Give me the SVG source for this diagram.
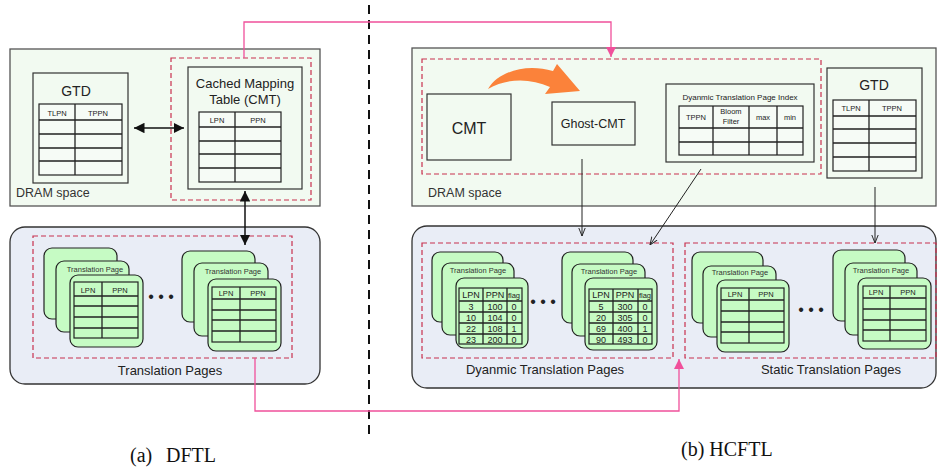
<svg xmlns="http://www.w3.org/2000/svg" width="937" height="472" viewBox="0 0 937 472">
<style>
text{font-family:"Liberation Sans",Arial,sans-serif;fill:#222}
.dram{fill:#f2faf1;stroke:#555;stroke-width:1.3}
.tpbox{fill:#e9edf6;stroke:#333;stroke-width:1.3}
.box{fill:#f2faf1;stroke:#333;stroke-width:1.2}
.rdash{fill:none;stroke:#c8304e;stroke-width:1.2;stroke-dasharray:5,3}
.pg{fill:#c6fbc4;stroke:#222;stroke-width:1.2}
.tw{fill:#f6fbf6;stroke:#222;stroke-width:1.2}
.tg{fill:#c6fbc4;stroke:#222;stroke-width:1.2}
.ln{stroke:#222;stroke-width:1.3;fill:none}
.pink{stroke:#f0509b;stroke-width:1.3;fill:none}
.blk{stroke:#222;stroke-width:1;fill:none}
.lbl{font-size:12.5px;fill:#333}
.th{font-size:7.5px;text-anchor:middle}
.td{font-size:9px;text-anchor:middle}
.tp{font-size:7.5px;text-anchor:middle;fill:#333}
.cap{font-family:"Liberation Serif","Times New Roman",serif;font-size:20px;fill:#111}
</style>
<defs>
<marker id="ab" viewBox="0 0 10 10" refX="10" refY="5" markerWidth="7" markerHeight="7" orient="auto-start-reverse"><path d="M0,0 L10,5 L0,10 Z" fill="#111"/></marker>
<marker id="ao" viewBox="0 0 10 10" refX="10" refY="5" markerWidth="8" markerHeight="8" orient="auto"><path d="M0,1 L10,5 L0,9" fill="none" stroke="#222" stroke-width="1.2"/></marker>
<marker id="ap" viewBox="0 0 10 10" refX="10" refY="5" markerWidth="8" markerHeight="8" orient="auto"><path d="M0,0 L10,5 L0,10 Z" fill="#f0509b"/></marker>
</defs>

<!-- divider -->
<line x1="369" y1="5" x2="369" y2="437" stroke="#111" stroke-width="2" stroke-dasharray="9,6"/>

<!-- ===== (a) DFTL ===== -->
<g id="dram-a">
<rect class="dram" x="10" y="49" width="310" height="157"/>
<text class="lbl" x="16" y="197">DRAM space</text>
</g>
<g id="gtd-a">
<rect class="box" x="33" y="73" width="95" height="110"/>
<text x="76" y="96" font-size="14" text-anchor="middle">GTD</text>
<rect class="tw" x="39" y="104" width="83" height="71"/>
<path class="ln" d="M39,120H122M39,134H122M39,148H122M39,161H122M75,104V175"/>
<text class="th" x="57" y="116">TLPN</text>
<text class="th" x="98" y="116">TPPN</text>
</g>
<g id="cmt-a">
<rect class="rdash" x="171" y="58" width="140" height="142"/>
<rect class="box" x="188" y="67" width="114" height="122"/>
<text x="245" y="88" font-size="13" text-anchor="middle">Cached Mapping</text>
<text x="245" y="104" font-size="13" text-anchor="middle">Table (CMT)</text>
<rect class="tw" x="199" y="112" width="82" height="70"/>
<path class="ln" d="M199,127H281M199,141H281M199,154H281M199,168H281M235,112V182"/>
<text class="th" x="217" y="123">LPN</text>
<text class="th" x="258" y="123">PPN</text>
</g>
<g id="tp-a">
<rect class="tpbox" x="10" y="227" width="310" height="157" rx="15"/>
<rect class="rdash" x="33" y="236" width="259" height="122"/>
<text x="170" y="375" font-size="13" text-anchor="middle" fill="#333">Translation Pages</text>
<rect class="pg" x="44" y="248" width="73" height="71" rx="8"/>
<rect class="pg" x="56" y="261" width="73" height="71" rx="8"/>
<text class="tp" x="95" y="272">Translation Page</text>
<rect class="pg" x="70" y="275" width="73" height="72" rx="8"/>
<rect class="tg" x="74" y="282" width="64" height="56"/>
<path class="ln" d="M74,296H138M74,306H138M74,317H138M74,328H138M102,282V338"/>
<text class="th" x="88" y="293">LPN</text>
<text class="th" x="120" y="293">PPN</text>
<text x="161" y="302" font-size="16" text-anchor="middle" fill="#111">• • •</text>
<rect class="pg" x="182" y="251" width="73" height="71" rx="8"/>
<rect class="pg" x="194" y="263" width="74" height="73" rx="8"/>
<text class="tp" x="233" y="274">Translation Page</text>
<rect class="pg" x="208" y="279" width="73" height="72" rx="8"/>
<rect class="tg" x="212" y="287" width="64" height="55"/>
<path class="ln" d="M212,299H276M212,310H276M212,320H276M212,331H276M240,287V342"/>
<text class="th" x="226" y="296">LPN</text>
<text class="th" x="258" y="296">PPN</text>
</g>

<!-- ===== (b) HCFTL ===== -->
<g id="dram-b">
<rect class="dram" x="412" y="48" width="524" height="158"/>
<text class="lbl" x="428" y="197">DRAM space</text>
<rect class="rdash" x="422" y="59" width="399" height="115"/>
</g>
<g id="cmt-b">
<rect class="box" x="427" y="94" width="84" height="66"/>
<text x="469" y="134" font-size="16" text-anchor="middle">CMT</text>
</g>
<g id="ghost-cmt">
<rect class="box" x="552" y="102" width="83" height="43"/>
<text x="593" y="128" font-size="12.5" text-anchor="middle">Ghost-CMT</text>
</g>
<g id="dtpi">
<rect class="box" x="666" y="84" width="148" height="78"/>
<text x="740" y="100" font-size="8" text-anchor="middle">Dyanmic Translation Page Index</text>
<rect class="tw" x="679" y="106" width="124" height="49"/>
<path class="ln" d="M679,128H803M679,142H803M713,106V155M749,106V155M777,106V155"/>
<text class="th" x="696" y="120">TPPN</text>
<text class="th" x="731" y="114">Bloom</text>
<text class="th" x="731" y="124">Filter</text>
<text class="th" x="763" y="120">max</text>
<text class="th" x="790" y="120">min</text>
</g>
<g id="gtd-b">
<rect class="box" x="827" y="68" width="95" height="110"/>
<text x="874" y="90" font-size="14" text-anchor="middle">GTD</text>
<rect class="tw" x="833" y="100" width="83" height="71"/>
<path class="ln" d="M833,116H916M833,129H916M833,143H916M833,157H916M869,100V171"/>
<text class="th" x="851" y="111">TLPN</text>
<text class="th" x="892" y="111">TPPN</text>
</g>
<g id="tp-b">
<rect class="tpbox" x="412" y="226" width="524" height="162" rx="15"/>
</g>
<g id="dynamic-tp">
<rect class="rdash" x="422" y="243" width="251" height="115"/>
<text x="545" y="374" font-size="13" text-anchor="middle" fill="#333">Dyanmic Translation Pages</text>
<rect class="pg" x="432" y="252" width="71" height="70" rx="8"/>
<rect class="pg" x="442" y="263" width="72" height="72" rx="8"/>
<text class="tp" x="478" y="273">Translation Page</text>
<rect class="pg" x="456" y="278" width="72" height="70" rx="8"/>
<rect class="tg" x="459" y="288" width="63" height="56"/>
<path class="ln" d="M459,301H522M459,312H522M459,323H522M459,334H522M483,288V344M507,288V344"/>
<text class="td" x="471" y="298">LPN</text>
<text class="td" x="495" y="298">PPN</text>
<text class="th" x="514" y="298" font-size="6">flag</text>
<text class="td" x="471" y="310">3</text><text class="td" x="495" y="310">100</text><text class="td" x="514" y="310">0</text>
<text class="td" x="471" y="321">10</text><text class="td" x="495" y="321">104</text><text class="td" x="514" y="321">0</text>
<text class="td" x="471" y="332">22</text><text class="td" x="495" y="332">108</text><text class="td" x="514" y="332">1</text>
<text class="td" x="471" y="343">23</text><text class="td" x="495" y="343">200</text><text class="td" x="514" y="343">0</text>
<text x="543" y="307" font-size="16" text-anchor="middle" fill="#111">• • •</text>
<rect class="pg" x="562" y="252" width="71" height="71" rx="8"/>
<rect class="pg" x="572" y="264" width="73" height="72" rx="8"/>
<text class="tp" x="609" y="274">Translation Page</text>
<rect class="pg" x="585" y="278" width="72" height="72" rx="8"/>
<rect class="tg" x="589" y="289" width="63" height="55"/>
<path class="ln" d="M589,301H652M589,312H652M589,323H652M589,334H652M613,289V344M638,289V344"/>
<text class="td" x="601" y="298">LPN</text>
<text class="td" x="625" y="298">PPN</text>
<text class="th" x="645" y="298" font-size="6">flag</text>
<text class="td" x="601" y="310">5</text><text class="td" x="625" y="310">300</text><text class="td" x="645" y="310">0</text>
<text class="td" x="601" y="321">20</text><text class="td" x="625" y="321">305</text><text class="td" x="645" y="321">0</text>
<text class="td" x="601" y="332">69</text><text class="td" x="625" y="332">400</text><text class="td" x="645" y="332">1</text>
<text class="td" x="601" y="343">90</text><text class="td" x="625" y="343">493</text><text class="td" x="645" y="343">0</text>
</g>
<g id="static-tp">
<rect class="rdash" x="685" y="243" width="251" height="115"/>
<text x="831" y="374" font-size="13" text-anchor="middle" fill="#333">Static Translation Pages</text>
<rect class="pg" x="692" y="252" width="71" height="71" rx="8"/>
<rect class="pg" x="703" y="266" width="73" height="71" rx="8"/>
<text class="tp" x="740" y="275">Translation Page</text>
<rect class="pg" x="717" y="280" width="72" height="72" rx="8"/>
<rect class="tg" x="721" y="288" width="63" height="55"/>
<path class="ln" d="M721,300H784M721,311H784M721,322H784M721,332H784M749,288V343"/>
<text class="th" x="735" y="297">LPN</text>
<text class="th" x="766" y="297">PPN</text>
<text x="811" y="315" font-size="16" text-anchor="middle" fill="#111">• • •</text>
<rect class="pg" x="833" y="250" width="72" height="71" rx="8"/>
<rect class="pg" x="845" y="263" width="72" height="72" rx="8"/>
<text class="tp" x="881" y="273">Translation Page</text>
<rect class="pg" x="858" y="278" width="73" height="71" rx="8"/>
<rect class="tg" x="863" y="286" width="63" height="55"/>
<path class="ln" d="M863,298H926M863,309H926M863,320H926M863,330H926M890,286V341"/>
<text class="th" x="876" y="295">LPN</text>
<text class="th" x="908" y="295">PPN</text>
</g>

<!-- orange migration arrow -->
<g id="migrate">
<path d="M488,89 C498,72 525,63 553,71 L557,64 L580,91 L545,94 L550,87 C530,78 507,78 488,89 Z" fill="#fb823a"/>
</g>

<!-- connectors -->
<g id="connectors">
<line x1="134" y1="128" x2="184" y2="128" stroke="#111" stroke-width="1.5" marker-start="url(#ab)" marker-end="url(#ab)"/>
<line x1="245" y1="191" x2="245" y2="245" stroke="#111" stroke-width="1.5" marker-start="url(#ab)" marker-end="url(#ab)"/>
<path class="pink" d="M244,58 V22 H611 V57" marker-end="url(#ap)"/>
<path class="pink" d="M255,358 V411 H679 V359" marker-end="url(#ap)"/>
<line class="blk" x1="582" y1="159" x2="582" y2="236" marker-end="url(#ao)"/>
<line class="blk" x1="701" y1="169" x2="650" y2="245" marker-end="url(#ao)"/>
<line class="blk" x1="875" y1="187" x2="875" y2="243" marker-end="url(#ao)"/>
</g>

<text class="cap" x="130" y="462">(a)</text>
<text class="cap" x="166" y="462">DFTL</text>
<text class="cap" x="681" y="456">(b) HCFTL</text>
</svg>
